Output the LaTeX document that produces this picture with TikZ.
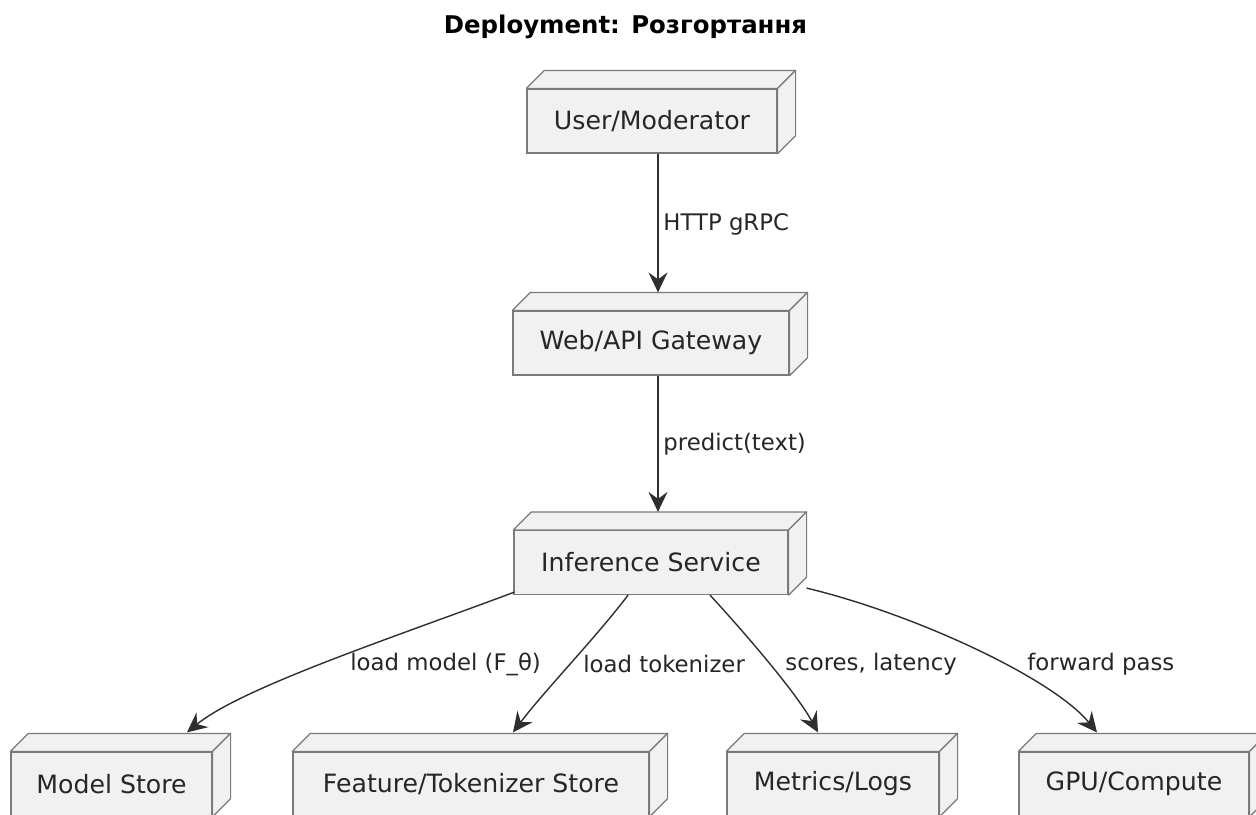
\documentclass[tikz,border=0pt]{standalone}
\usepackage{fontspec}
\setmainfont{DejaVu Sans}
\usetikzlibrary{arrows.meta,calc}
\definecolor{boxc}{HTML}{F1F1F1}
\definecolor{bordc}{HTML}{7A7A7A}
\definecolor{linec}{HTML}{181818}
\tikzset{
  box/.style={draw=bordc, fill=boxc, line width=0.6pt, minimum height=32pt, inner sep=0pt, font=\fontsize{12.6}{14}\selectfont, text=black!85},
  face/.style={draw=bordc, fill=boxc, line width=0.6pt, line join=round},
  arr/.style={draw=linec!90!white, line width=0.7pt, -{Stealth[length=10pt,width=9.5pt,inset=3.5pt]}},
  lbl/.style={anchor=west, inner sep=0pt, font=\fontsize{11.4}{13}\selectfont, text=black!85},
}
\newcommand{\dbox}[4]{%
  \node[box, minimum width=#3] (#1) at (#2) {#4};
  \filldraw[face] (#1.north west) -- ++(18,-18) -- ($(#1.north east)+(18,-18)$) -- (#1.north east) -- cycle;
  \filldraw[face] (#1.north east) -- ++(18,-18) -- ($(#1.south east)+(18,-18)$) -- (#1.south east) -- cycle;
}
\begin{document}
\begin{tikzpicture}[x=0.5pt,y=-0.5pt]
\clip (0,0) rectangle (1256,814);
\fill[white] (0,0) rectangle (1256,814);
\node[font=\fontsize{12.2}{14}\selectfont\bfseries] (title) at (625.5,27) {Deployment: Розгортання};

\dbox{user}{652,121}{125pt}{User/Moderator}
\dbox{web}{651,343}{138pt}{Web/API Gateway}
\dbox{inf}{651,562.5}{137pt}{Inference Service}
\dbox{model}{111.5,784}{100.5pt}{Model Store}
\dbox{feat}{471,784}{178pt}{Feature/Tokenizer Store}
\dbox{metr}{833,784}{106pt}{Metrics/Logs}
\dbox{gpu}{1134,784}{115pt}{GPU/Compute}

\draw[arr] ($(user.south)+(6,0)$) -- ($(web.north)+(7,-18)$);
\draw[arr] ($(web.south)+(7,0)$) -- ($(inf.north)+(7,-18)$);

\draw[arr] ($(inf.south west)+(1,-3)$) .. controls +(-120,45) and +(55,-45) .. ($(model.north)+(75.5,-19)$);
\draw[arr] ($(inf.south)+(-23,0)$) .. controls +(-30,40) and +(30,-40) .. ($(feat.north)+(42,-19)$);
\draw[arr] ($(inf.south)+(59,0)$) .. controls +(35,38) and +(-22,-40) .. ($(metr.north)+(-15,-19)$);
\draw[arr] ($(inf.south east)+(18,-7)$) .. controls +(105,25) and +(-45,-55) .. ($(gpu.north)+(-37,-19)$);

\node[lbl] (l1) at (663,224) {HTTP gRPC};
\node[lbl] (l2) at (663,444) {predict(text)};
\node[lbl] (l3) at (350,664) {load model (F\_θ)};
\node[lbl] (l4) at (583,664) {load tokenizer};
\node[lbl] (l5) at (785,664) {scores, latency};
\node[lbl] (l6) at (1027,664) {forward pass};
\end{tikzpicture}
\end{document}
